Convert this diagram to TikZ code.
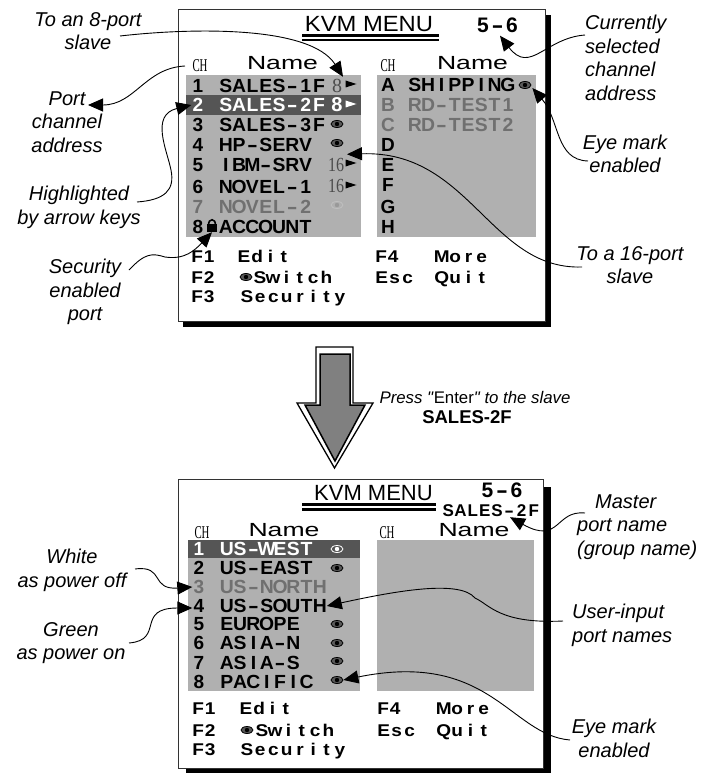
\documentclass[tikz,border=0pt]{standalone}
\usepackage{fontspec}
\setmainfont{Liberation Sans}
\newfontfamily\serifthin{Liberation Serif}
\newfontfamily\rawsans{Liberation Sans}
\usetikzlibrary{arrows.meta,shapes.geometric}
\definecolor{panelgray}{HTML}{B0B0B0}
\definecolor{hilite}{HTML}{555555}
\definecolor{dimtext}{HTML}{707070}
\definecolor{arrowgray}{HTML}{808080}
\makeatletter
\def\hyphchar{-}
\newcommand\spc[3][1.02]{\@tfor\chr:=#3\do{\makebox[#2][c]{\ifx\chr\hyphchar\scalebox{1.7}[1]{-}\else\scalebox{#1}[1]{\chr}\fi}}}
\makeatother
\tikzset{
  rowtext/.style={font=\fontsize{19}{19}\bfseries\selectfont,inner sep=0pt,text height=13.6pt,text depth=0pt},
  foottext/.style={font=\fontsize{17}{17}\bfseries\selectfont,inner sep=0pt,text height=12.2pt,text depth=0pt,anchor=west},
  lab/.style={font=\fontsize{20}{23.7}\itshape\selectfont,align=center,inner sep=0pt},
  labl/.style={lab,align=left},
  titletext/.style={font=\fontsize{22}{22}\selectfont,inner sep=0pt,text height=15pt,text depth=0pt},
  nametext/.style={font=\fontsize{19}{19}\selectfont,inner sep=0pt,text height=13.6pt,text depth=0pt},
  chtext/.style={font=\fontsize{18}{18}\serifthin\selectfont,inner sep=0pt,text height=12pt,text depth=0pt},
  serifnum/.style={font=\fontsize{20}{20}\serifthin\selectfont,inner sep=0pt,text height=13.5pt,text depth=0pt},
  conn/.style={draw=black,line width=0.9pt,-{Triangle[length=15pt,width=13pt]}},
  rmark/.style={minimum width=11pt,minimum height=7pt,inner sep=0pt,
    path picture={\fill[#1] (path picture bounding box.north west)--(path picture bounding box.east)--(path picture bounding box.south west)--cycle;}},
  eyemark/.style n args={3}{ellipse,minimum width=12pt,minimum height=7pt,inner sep=0pt,draw=#1,fill=#2,line width=0.8pt,
    path picture={\fill[#3] (path picture bounding box.center) circle (2.2pt);}},
  lockmark/.style={minimum width=10pt,minimum height=14pt,inner sep=0pt,
    path picture={\fill[black] ([yshift=1pt]path picture bounding box.west) rectangle (path picture bounding box.south east);
      \draw[black,line width=1.6pt] ([xshift=1.5pt]path picture bounding box.west) .. controls ([xshift=1.5pt]path picture bounding box.north west) and ([xshift=-1.5pt]path picture bounding box.north east) .. ([xshift=-1.5pt]path picture bounding box.east);}},
}
\newcommand\menurow[7][black]{%
  \node[rowtext,text=#1,minimum width=13pt] (#2n) at (#3,#5) {#6};
  \node[rowtext,text=#1,anchor=west] (#2t) at (#4,#5) {\spc{13.3pt}{#7}};
}
\begin{document}
\begin{tikzpicture}[x=1pt,y=-1pt]
\useasboundingbox (0,0) rectangle (705,773);
\fill[white] (0,0) rectangle (705,773);
% ---------- top window
\fill[black] (183,15) rectangle (551,327);
\filldraw[fill=white,draw=black!80,line width=0.9pt] (178,9) rectangle (545,321);
\fill[panelgray] (186,75) rectangle (361,237);
\fill[panelgray] (377,75) rectangle (536,237);
\fill[hilite] (186,95) rectangle (361,115);
\node[titletext] (titleA) at (369,24) {\scalebox{1.08}[1]{KVM MENU}};
\fill[black] (302,34.5) rectangle (439,37.5);
\fill[black] (302,39.5) rectangle (439,41.5);
\node[font=\fontsize{21}{21}\bfseries\selectfont,inner sep=0pt,text height=15pt,text depth=0pt] (addrA) at (497.5,25) {\spc[1]{14.5pt}{5-6}};
\node[chtext] (chA) at (200,66) {\scalebox{.6}[1]{CH}};
\node[chtext] (chB) at (388,66) {\scalebox{.6}[1]{CH}};
\node[nametext] (nameA) at (282.5,63) {\scalebox{1.4}[1]{Name}};
\node[nametext] (nameB) at (472.5,63) {\scalebox{1.4}[1]{Name}};
\menurow{ra}{198}{219}{86}{1}{SALES-1F}
\menurow[white]{rb}{198}{219}{105}{2}{SALES-2F}
\menurow{rc}{198}{219}{125}{3}{SALES-3F}
\menurow{rd}{198}{219}{145}{4}{HP-SERV}
\menurow{re}{198}{219}{165}{5}{IBM-SRV}
\menurow{rf}{198}{219}{187}{6}{NOVEL-1}
\menurow[dimtext]{rg}{198}{219}{207}{7}{NOVEL-2}
\menurow{rh}{198}{219}{227}{8}{ACCOUNT}
\node[serifnum,text=black!70] (pa) at (337,86) {8};
\node[rmark=black] (ma) at (351,84) {};
\node[font=\fontsize{20}{20}\bfseries\selectfont,inner sep=0pt,text height=14pt,text depth=0pt,text=white] (pb) at (337,105) {8};
\node[rmark=white] (mb) at (351,104) {};
\node[eyemark={black}{black!65}{black}] (ec) at (337,124) {};
\node[eyemark={black}{black!65}{black}] (ed) at (337,143) {};
\node[serifnum,text=black!70] (pe) at (336,165) {\scalebox{.8}[1]{16}};
\node[rmark=black] (me) at (351,163) {};
\node[serifnum,text=black!70] (pf) at (336,186) {\scalebox{.8}[1]{16}};
\node[rmark=black] (mf) at (351,185) {};
\node[eyemark={black!25}{panelgray}{black!40}] (eg) at (337,205) {};
\node[lockmark] (lk) at (212,225) {};
\menurow{sa}{388}{408}{85}{A}{SHIPPING}
\menurow[dimtext]{sb}{388}{408}{105}{B}{RD-TEST1}
\menurow[dimtext]{sc}{388}{408}{125}{C}{RD-TEST2}
\node[rowtext] (sd) at (388,145) {D};
\node[rowtext] (se) at (388,165) {E};
\node[rowtext] (sf) at (388,185) {F};
\node[rowtext] (sg) at (388,207) {G};
\node[rowtext] (sh) at (388,227) {H};
\node[eyemark={black}{black!65}{black}] (ea) at (525,85) {};
\node[foottext] (fa) at (191,256) {\spc[1.12]{12pt}{F1}};
\node[foottext] (fb) at (191,277) {\spc[1.12]{12pt}{F2}};
\node[foottext] (fc) at (191,296) {\spc[1.12]{12pt}{F3}};
\node[foottext] (fd) at (237,256) {\spc[1.12]{13.3pt}{Edit}};
\node[eyemark={black}{black!65}{black}] (fe) at (246,277) {};
\node[foottext] (ff) at (253,277) {\spc[1.12]{13.3pt}{Switch}};
\node[foottext] (fg) at (240,296) {\spc[1.12]{13.3pt}{Security}};
\node[foottext] (fh) at (375,256) {\spc[1.12]{12pt}{F4}};
\node[foottext] (fi) at (375,277) {\spc[1.12]{13pt}{Esc}};
\node[foottext] (fj) at (435,256) {\spc[1.12]{13.3pt}{More}};
\node[foottext] (fk) at (435,277) {\spc[1.12]{13.3pt}{Quit}};
% ---------- big arrow
\filldraw[fill=white,draw=black,line width=1.3pt] (316,347) -- (353,347) -- (353,403) -- (373,403) -- (334.5,468) -- (297,403) -- (316,403) -- cycle;
\filldraw[fill=arrowgray,draw=black,line width=1.5pt] (320,354) -- (350,354) -- (350,405) -- (365,405) -- (335,461) -- (305,405) -- (320,405) -- cycle;
\node[font=\fontsize{16.8}{18}\rawsans\selectfont,inner sep=0pt] (press) at (475,397) {\textit{Press "}Enter\textit{" to the slave}};
\node[font=\fontsize{18.5}{18}\bfseries\selectfont,inner sep=0pt] (slave) at (467,417) {SALES-2F};
% ---------- bottom window
\fill[black] (186,487) rectangle (551,773);
\filldraw[fill=white,draw=black!80,line width=0.9pt] (178,479) rectangle (543,768);
\fill[panelgray] (188,540) rectangle (360,691);
\fill[panelgray] (377,540) rectangle (534,691);
\fill[hilite] (188,540) rectangle (360,558);
\node[titletext] (titleC) at (373.5,493) {KVM MENU};
\fill[black] (302,503) rectangle (436,505.5);
\fill[black] (302,508) rectangle (436,510.5);
\node[font=\fontsize{21}{21}\bfseries\selectfont,inner sep=0pt,text height=15pt,text depth=0pt] (addrC) at (502,490) {\spc[1]{14.5pt}{5-6}};
\node[font=\fontsize{17}{17}\bfseries\selectfont,inner sep=0pt,text height=12pt,text depth=0pt] (group) at (491,510) {\spc[1]{12.2pt}{SALES-2F}};
\node[chtext] (chC) at (202,532) {\scalebox{.6}[1]{CH}};
\node[chtext] (chD) at (387,532) {\scalebox{.6}[1]{CH}};
\node[nametext] (nameC) at (284,530) {\scalebox{1.4}[1]{Name}};
\node[nametext] (nameD) at (474,530) {\scalebox{1.4}[1]{Name}};
\menurow[white]{ua}{199}{220}{549}{1}{US-WEST}
\menurow{ub}{199}{220}{568}{2}{US-EAST}
\menurow[dimtext]{uc}{199}{220}{587}{3}{US-NORTH}
\menurow{ud}{199}{220}{606}{4}{US-SOUTH}
\menurow{ue}{199}{220}{624}{5}{EUROPE}
\menurow{uf}{199}{220}{643}{6}{ASIA-N}
\menurow{ug}{199}{220}{663}{7}{ASIA-S}
\menurow{uh}{199}{220}{682}{8}{PACIFIC}
\node[eyemark={white}{hilite}{white}] (va) at (337,549) {};
\node[eyemark={black}{black!65}{black}] (vb) at (337,568) {};
\node[eyemark={black}{black!65}{black}] (ve) at (337,624) {};
\node[eyemark={black}{black!65}{black}] (vf) at (337,643) {};
\node[eyemark={black}{black!65}{black}] (vg) at (337,661) {};
\node[eyemark={black}{black!65}{black}] (vh) at (337,680) {};
\node[foottext] (ga) at (192,708) {\spc[1.12]{12pt}{F1}};
\node[foottext] (gb) at (192,730) {\spc[1.12]{12pt}{F2}};
\node[foottext] (gc) at (192,749) {\spc[1.12]{12pt}{F3}};
\node[foottext] (gd) at (239,708) {\spc[1.12]{13.3pt}{Edit}};
\node[eyemark={black}{black!65}{black}] (ge) at (247,730) {};
\node[foottext] (gf) at (255,730) {\spc[1.12]{13.3pt}{Switch}};
\node[foottext] (gg) at (240,749) {\spc[1.12]{13.3pt}{Security}};
\node[foottext] (gh) at (377,708) {\spc[1.12]{12pt}{F4}};
\node[foottext] (gi) at (377,730) {\spc[1.12]{13pt}{Esc}};
\node[foottext] (gj) at (437,708) {\spc[1.12]{13.3pt}{More}};
\node[foottext] (gk) at (437,730) {\spc[1.12]{13.3pt}{Quit}};
% ---------- labels
\node[lab] (l8) at (88,31) {To an 8-port\\slave};
\node[lab] (lport) at (67,122) {Port\\channel\\address};
\node[lab] (lhigh) at (79,207) {Highlighted\\by arrow keys};
\node[lab] (lsec) at (85,292) {Security\\enabled\\port};
\node[labl] (lcur) at (585,58) [anchor=west] {Currently\\selected\\channel\\address};
\node[lab] (leye) at (625,154) {Eye mark\\enabled};
\node[lab] (l16) at (630,265) {To a 16-port\\slave};
\node[lab] (lwhite) at (72,570) {White\\as power off};
\node[lab] (lgreen) at (71,643) {Green\\as power on};
\node[labl] (lmaster) at (577,527) [anchor=west] {\hspace*{18pt}Master\\port name\\(group name)};
\node[labl] (luser) at (572,625) [anchor=west] {User-input\\port names};
\node[lab] (leyeb) at (614,738) {Eye mark\\enabled};
% ---------- connectors
\coordinate (c8) at (120,36);
\coordinate (cch) at (185,66);
\coordinate (chigh) at (137,202);
\coordinate (csec) at (129,270);
\coordinate (ccur) at (585,35);
\coordinate (ceye) at (588,161);
\coordinate (c16) at (582,267);
\coordinate (cwhite) at (135,569);
\coordinate (cgreen) at (129,643);
\coordinate (cmaster) at (585,513);
\coordinate (cuser) at (563,621);
\coordinate (ceyeb) at (570,740);
\draw[conn] (c8) .. controls (190,28) and (310,25) .. ([shift={(-8,-3.5)}]ma.north);
\draw[conn] (cch) .. controls (145,68) and (135,105) .. ([shift={(21,-17)}]lport.center);
\draw[conn] (chigh) .. controls (165,200) and (175,190) .. (171,170) .. controls (167,150) and (150,115) .. (rbn.west);
\draw[conn] (csec) .. controls (145,253) and (152,253) .. (165,257) .. controls (185,260) and (195,250) .. (lk.south);
\draw[conn] (ccur) .. controls (545,38) and (530,75) .. ([shift={(2.5,3)}]addrA.south);
\draw[conn] (ceye) .. controls (555,160) and (560,120) .. ([shift={(1,3)}]ea.east);
\draw[conn] (c16) .. controls (490,270) and (470,150) .. ([shift={(-4,-5)}]me.north);
\draw[conn] (cwhite) .. controls (165,565) and (150,590) .. (ucn.west);
\draw[conn] (cgreen) .. controls (165,640) and (135,608) .. ([yshift=-2pt]udn.west);
\draw[conn] (cmaster) .. controls (555,510) and (560,545) .. ([shift={(19,1)}]group.south);
\draw[conn] (cuser) .. controls (500,624) and (490,605) .. (475,598) .. controls (460,580) and (400,590) .. (udt.east);
\draw[conn] (ceyeb) .. controls (510,735) and (490,650) .. (vh.east);
\end{tikzpicture}
\end{document}
